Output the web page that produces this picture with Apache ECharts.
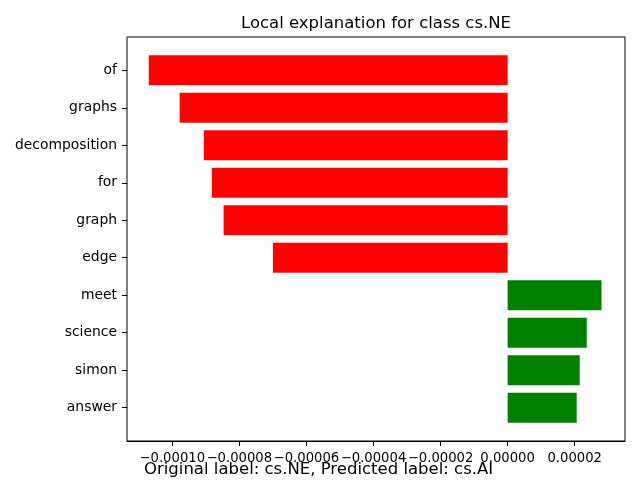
<!DOCTYPE html>
<html>
<head>
<meta charset="utf-8">
<script src="https://cdn.jsdelivr.net/npm/echarts@6/dist/echarts.min.js"></script>
<style>
  html, body { margin: 0; padding: 0; background: #fff; }
  #main { width: 640px; height: 480px; }
</style>
</head>
<body>
<div id="main"></div>
<script>
// feature names, top to bottom
var features = ['of', 'graphs', 'decomposition', 'for', 'graph', 'edge', 'meet', 'science', 'simon', 'answer'];
// weights
var weights = [-0.000107, -0.0000978, -0.0000906, -0.0000882, -0.0000847, -0.0000700,
  0.0000280, 0.0000236, 0.0000215, 0.0000206];
var xTicks = [-0.0001, -0.00008, -0.00006, -0.00004, -0.00002, 0, 0.00002];
var xMin = -0.0001135;
var xMax = 0.0000350;

var font = 'DejaVu Sans';

function fmtTick(v) {
  var s = (Math.abs(v) < 1e-12 ? 0 : v).toFixed(5);
  return s.replace('-', '\u2212');
}

var chart = echarts.init(document.getElementById('main'));

var option = {
  animation: false,
  backgroundColor: '#fff',
  title: [{
    text: 'Local explanation for class cs.NE',
    left: 376,
    textAlign: 'center',
    top: 15,
    padding: 0,
    textStyle: { fontFamily: font, fontSize: 16.5, fontWeight: 'normal', color: '#000' }
  }, {
    text: 'Original label: cs.NE, Predicted label: cs.AI',
    left: 144,
    top: 461,
    padding: 0,
    textStyle: { fontFamily: font, fontSize: 16.5, fontWeight: 'normal', color: '#000' }
  }],
  grid: [
    // bars
    { left: 127, right: 15, top: 51.6, bottom: 53.6 },
    // frame + x ticks
    { left: 127, right: 15, top: 37, bottom: 39, show: true, borderColor: '#000', borderWidth: 1, backgroundColor: 'transparent' }
  ],
  xAxis: [{
    type: 'value',
    gridIndex: 0,
    min: xMin,
    max: xMax,
    show: false
  }, {
    type: 'value',
    gridIndex: 1,
    min: xMin,
    max: xMax,
    position: 'bottom',
    axisLine: { show: true, lineStyle: { color: '#000', width: 1 } },
    splitLine: { show: false },
    axisTick: { show: true, length: 5, customValues: xTicks, lineStyle: { color: '#000', width: 1 } },
    axisLabel: {
      customValues: xTicks,
      formatter: fmtTick,
      hideOverlap: false,
      showMinLabel: true,
      showMaxLabel: true,
      margin: 11,
      fontFamily: font,
      fontSize: 13.2,
      color: '#000'
    }
  }],
  yAxis: [{
    type: 'category',
    gridIndex: 0,
    data: features,
    inverse: true,
    axisLine: { show: false, onZero: false },
    axisTick: { show: true, length: 5, alignWithLabel: true, lineStyle: { color: '#000', width: 1 } },
    axisLabel: { margin: 10, fontFamily: font, fontSize: 13.9, color: '#000' },
    splitLine: { show: false }
  }, {
    type: 'value', gridIndex: 1, show: false, min: 0, max: 1
  }],
  series: [{
    type: 'bar',
    xAxisIndex: 0,
    yAxisIndex: 0,
    barWidth: '80%',
    data: weights.map(function (w) {
      return { value: w, itemStyle: { color: w < 0 ? '#ff0000' : '#008000' } };
    })
  }]
};

chart.setOption(option);
</script>
</body>
</html>
